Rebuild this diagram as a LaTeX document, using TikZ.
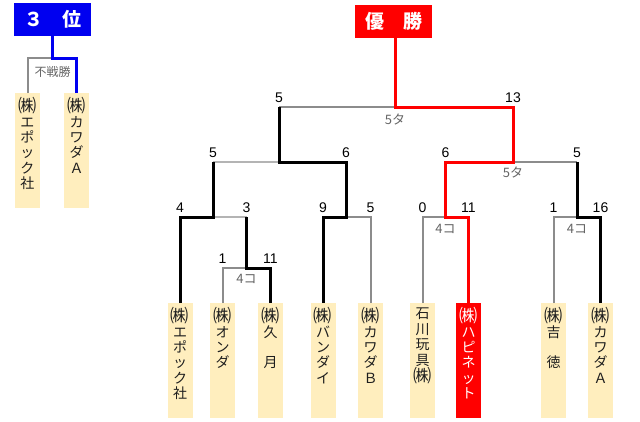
\documentclass[tikz,border=0pt]{standalone}
\usepackage{fontspec}
\setmainfont{Noto Sans CJK JP}
\newfontfamily\numfont{Liberation Sans}
\newcommand\kabu{\raisebox{-0.8pt}{\scalebox{1.3}{㈱}}}
\definecolor{boxfill}{RGB}{255,238,190}
\definecolor{txtdark}{RGB}{30,30,30}
\definecolor{midgray}{RGB}{140,140,140}
\definecolor{lightgray2}{RGB}{180,180,180}
\definecolor{labgray}{RGB}{100,100,100}
\definecolor{bracketred}{RGB}{255,0,0}
\definecolor{bracketblue}{RGB}{0,0,240}
\begin{document}
\begin{tikzpicture}[x=1pt,y=-1pt,
  namebox/.style={fill=boxfill, minimum width=25pt, minimum height=115pt, inner sep=0pt, outer sep=0pt, anchor=north},
  nametext/.style={anchor=north, inner sep=0pt, align=center, font=\fontsize{14}{15.4}\selectfont, text=txtdark},
  titlebox/.style={minimum width=77pt, minimum height=33pt, inner sep=0pt, outer sep=0pt, text=white, font=\fontsize{19}{19}\selectfont\bfseries},
  winline/.style={line width=3pt, black, line join=miter},
  redline/.style={line width=3pt, bracketred, line join=miter},
  blueline/.style={line width=3pt, bracketblue, line join=miter},
  loseline/.style={line width=2pt, midgray, line join=miter},
  faintline/.style={line width=2pt, lightgray2, line join=miter},
  score/.style={anchor=base, inner sep=0pt, font=\numfont\fontsize{14}{14}\selectfont, text=black},
  note/.style={anchor=center, inner sep=0pt, font=\fontsize{13}{13}\selectfont, text=labgray}]
\useasboundingbox (0,0) rectangle (640,421);

% ---------- third place ----------
\node[titlebox, fill=bracketblue] (tbox) at (52.5,19) {３　位};
\node[namebox] (b1) at (27.5,93) {};
\node[namebox] (b2) at (76.5,93) {};
\node[nametext] (bt1) at (27.5,97) {\kabu\\エ\\ポ\\ッ\\ク\\社};
\node[nametext] (bt2) at (76.5,97) {\kabu\\カ\\ワ\\ダ\\Ａ};
\coordinate (tb) at (52.5,58);
\draw[loseline] (b1.north) |- (tb);
\draw[blueline] (b2.north) |- (tb) -- (tbox.south);
\node[note, font=\fontsize{12}{12}\selectfont] (fs) at (52.5,72) {不戦勝};

% ---------- final ----------
\node[titlebox, fill=bracketred] (wbox) at (393.5,21.5) {優　勝};

% name boxes
\node[namebox] (n1) at (180,303) {};
\node[namebox] (n2) at (222.5,303) {};
\node[namebox] (n3) at (270.5,303) {};
\node[namebox] (n4) at (323,303) {};
\node[namebox] (n5) at (370.5,303) {};
\node[namebox] (n6) at (422.5,303) {};
\node[namebox, fill=bracketred] (n7) at (468.5,303) {};
\node[namebox] (n8) at (553.5,303) {};
\node[namebox] (n9) at (600.5,303) {};

\node[nametext] (t1) at (180,307) {\kabu\\エ\\ポ\\ッ\\ク\\社};
\node[nametext] (t2) at (222.5,307) {\kabu\\オ\\ン\\ダ};
\node[nametext] (t3) at (270.5,307) {\kabu\\久\\\mbox{}\\月};
\node[nametext] (t4) at (323,307) {\kabu\\バ\\ン\\ダ\\イ};
\node[nametext] (t5) at (370.5,307) {\kabu\\カ\\ワ\\ダ\\Ｂ};
\node[nametext] (t6) at (422.5,308) {石\\川\\玩\\具\\\kabu};
\node[nametext, text=white] (t7) at (468.5,307) {\kabu\\ハ\\ピ\\ネ\\ッ\\ト};
\node[nametext] (t8) at (553.5,307) {\kabu\\吉\\\mbox{}\\徳};
\node[nametext] (t9) at (600.5,307) {\kabu\\カ\\ワ\\ダ\\Ａ};

% junctions
\coordinate (j0) at (246.5,268);
\coordinate (s3) at (246.5,217);
\coordinate (j1) at (213,217);
\coordinate (k1) at (213,162);
\coordinate (j2) at (346,217);
\coordinate (l1) at (279,162);
\coordinate (m1) at (279,107);
\coordinate (top) at (395,107);
\coordinate (j3) at (445.5,217);
\coordinate (r2) at (513,162);
\coordinate (j4) at (577,217);
\coordinate (k4) at (577,162);

% losing lines
\draw[loseline] (n2.north) |- (j0);
\draw[faintline] (s3) -- (j1);
\draw[faintline] (k1) -- (l1);
\draw[loseline] (n5.north) |- (j2);
\draw[loseline] (m1) -- (top);
\draw[loseline] (n6.north) |- (j3);
\draw[loseline] (n8.north) |- (j4);
\draw[loseline] (r2) -- (k4);

% winning lines
\draw[winline] (n3.north) |- (j0) -- (s3);
\draw[winline] (n1.north) |- (j1) -- (k1);
\draw[winline] (n4.north) |- (j2) |- (l1) -- (m1);
\draw[winline] (n9.north) |- (j4) -- (k4);
\draw[redline] (n7.north) |- (j3) |- (r2) |- (top) -- (top |- wbox.south);

% scores
\node[score] (sa1) at (279,102) {5};
\node[score] (sa2) at (513,102) {13};
\node[score] (sb1) at (213,157) {5};
\node[score] (sb2) at (346,157) {6};
\node[score] (sb3) at (445.5,157) {6};
\node[score] (sb4) at (577,157) {5};
\node[score] (sc1) at (180,212) {4};
\node[score] (sc2) at (246.5,212) {3};
\node[score] (sc3) at (323,212) {9};
\node[score] (sc4) at (370.5,212) {5};
\node[score] (sc5) at (422.5,212) {0};
\node[score] (sc6) at (468.5,212) {11};
\node[score] (sc7) at (553.5,212) {1};
\node[score] (sc8) at (600.5,212) {16};
\node[score] (sd1) at (222.5,263) {1};
\node[score] (sd2) at (270.5,263) {11};

% notes
\node[note] (na) at (395,119) {5タ};
\node[note] (nb) at (513,172) {5タ};
\node[note] (nc) at (246.5,279) {4コ};
\node[note] (nd) at (445.5,229) {4コ};
\node[note] (ne) at (577,229) {4コ};
\end{tikzpicture}
\end{document}
